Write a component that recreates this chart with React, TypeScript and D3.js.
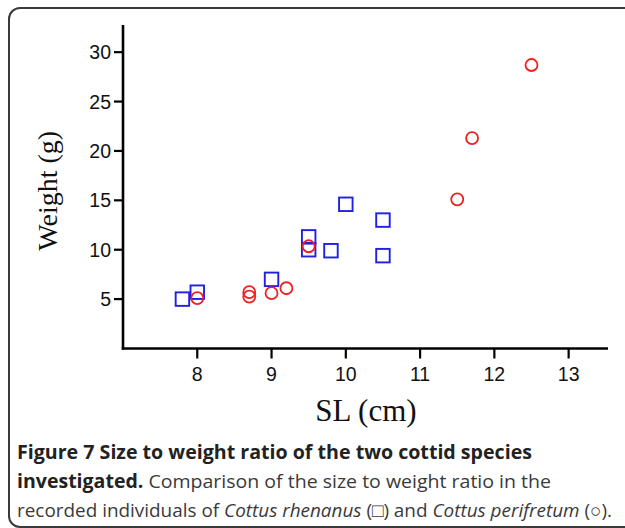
import * as d3 from 'd3';

// C. rhenanus (squares)
const RHEN_SL = [7.8, 8.0, 9.0, 9.5, 9.5, 9.8, 10.0, 10.5, 10.5];
const RHEN_W = [5.0, 5.7, 7.0, 11.3, 10.0, 9.9, 14.6, 13.0, 9.4];
// C. perifretum (circles)
const PERI_SL = [8.0, 8.7, 8.7, 9.0, 9.2, 9.5, 11.5, 11.7, 12.5];
const PERI_W = [5.1, 5.7, 5.25, 5.6, 6.1, 10.35, 15.1, 21.3, 28.7];

const X_TICKS = [8, 9, 10, 11, 12, 13];
const Y_TICKS = [5, 10, 15, 20, 25, 30];

export default function App() {
  const W = 625;
  const H = 528;
  const left = 123;
  const right = 608;
  const top = 25;
  const bottom = 348.5;

  const x = d3.scaleLinear().domain([7, 13.53]).range([left, right]);
  const y = d3.scaleLinear().domain([0, 32.75]).range([bottom, top]);

  const sq = 13.5;
  const blue = '#1f1fe6';
  const red = '#ee2020';
  const axisFont = '"Liberation Sans", Arial, sans-serif';
  const serif = '"Liberation Serif", "Times New Roman", serif';
  const capFont = '"Open Sans", "Noto Sans", sans-serif';

  return (
    <svg width={W} height={H} style={{ position: 'absolute', left: 0, top: 0, background: '#fff' }}>
      <rect x={9} y={8} width={660} height={519} rx={11} fill="none" stroke="#3a3a3a" strokeWidth={2} />

      {/* axes */}
      <line x1={left} x2={left} y1={top} y2={bottom + 1.2} stroke="#000" strokeWidth={2.6} />
      <line x1={left - 1.2} x2={right} y1={bottom} y2={bottom} stroke="#000" strokeWidth={2.6} />

      {Y_TICKS.map(t => (
        <g key={t}>
          <line x1={left - 9} x2={left} y1={y(t)} y2={y(t)} stroke="#000" strokeWidth={2.2} />
          <text x={left - 12} y={y(t) + 7} textAnchor="end" fontSize={19.5} fontFamily={axisFont} fill="#111">{t}</text>
        </g>
      ))}
      {X_TICKS.map(t => (
        <g key={t}>
          <line x1={x(t)} x2={x(t)} y1={bottom} y2={bottom + 10} stroke="#000" strokeWidth={2.2} />
          <text x={x(t)} y={381} textAnchor="middle" fontSize={19.5} fontFamily={axisFont} fill="#111">{t}</text>
        </g>
      ))}

      <text transform={`translate(57,${(top + bottom) / 2 + 4}) rotate(-90)`} textAnchor="middle" fontSize={28} fontFamily={serif} fill="#111">Weight (g)</text>
      <text x={366} y={421} textAnchor="middle" fontSize={31} fontFamily={serif} fill="#111">SL (cm)</text>

      {RHEN_SL.map((v, i) => (
        <rect key={'s' + i} x={x(v) - sq / 2} y={y(RHEN_W[i]) - sq / 2} width={sq} height={sq} fill="none" stroke={blue} strokeWidth={1.9} />
      ))}
      {PERI_SL.map((v, i) => (
        <circle key={'c' + i} cx={x(v)} cy={y(PERI_W[i])} r={6} fill="none" stroke={red} strokeWidth={1.8} />
      ))}

      <text x={17} y={459} fontSize={19} fontFamily={capFont} fill="#222" fontWeight={700} textLength={515} lengthAdjust="spacingAndGlyphs">Figure 7 Size to weight ratio of the two cottid species</text>
      <text x={17} y={488} fontSize={19} fontFamily={capFont} fill="#3a3a3a" textLength={534} lengthAdjust="spacingAndGlyphs">
        <tspan fontWeight={700} fill="#222">investigated.</tspan> Comparison of the size to weight ratio in the
      </text>
      <text x={17} y={517} fontSize={19} fontFamily={capFont} fill="#3a3a3a" textLength={595} lengthAdjust="spacingAndGlyphs">
        recorded individuals of <tspan fontStyle="italic">Cottus rhenanus</tspan> (□) and <tspan fontStyle="italic">Cottus perifretum</tspan> (○).
      </text>
    </svg>
  );
}
